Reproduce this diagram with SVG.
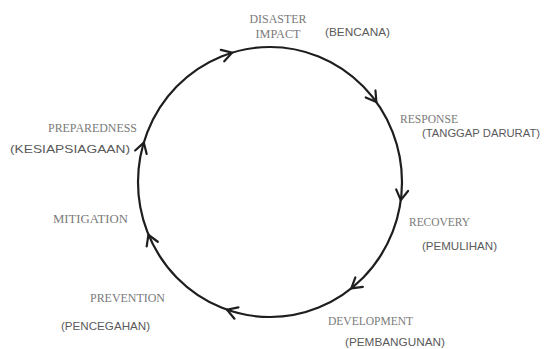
<svg xmlns="http://www.w3.org/2000/svg" width="547" height="349" viewBox="0 0 547 349">
<style>
.en{font-family:"Liberation Serif",serif;font-size:12px;fill:#7a7a7a;}
.id{font-family:"Liberation Sans",Arial,sans-serif;font-size:11px;fill:#5a5a5a;}
.ring{fill:none;stroke:#1e1e1e;stroke-width:2.2;}
.chev{fill:none;stroke:#1e1e1e;stroke-width:2.2;stroke-linecap:round;stroke-linejoin:miter;}
</style>
<defs>
<path id="chev" class="chev" d="M -10 -6 L 0 0 L -10 6"/>
</defs>
<rect width="547" height="349" fill="#fff"/>
<g id="connectors">
<ellipse class="ring" cx="270" cy="182" rx="132" ry="135"/>
<use href="#chev" transform="translate(232.1,52.7) rotate(-17)"/>
<use href="#chev" transform="translate(376.4,102.1) rotate(54.3)"/>
<use href="#chev" transform="translate(400.8,200.1) rotate(97.5)"/>
<use href="#chev" transform="translate(351.3,288.4) rotate(141.4)"/>
<use href="#chev" transform="translate(227,309.7) rotate(199.4)"/>
<use href="#chev" transform="translate(148.4,234.8) rotate(247.5)"/>
<use href="#chev" transform="translate(143.8,142.6) rotate(286.7)"/>
</g>
<g id="disaster-impact">
<text class="en" x="278" y="23" text-anchor="middle" textLength="57" lengthAdjust="spacingAndGlyphs">DISASTER</text>
<text class="en" x="278" y="38" text-anchor="middle" textLength="45" lengthAdjust="spacingAndGlyphs">IMPACT</text>
<text class="id" x="325" y="36" textLength="65" lengthAdjust="spacingAndGlyphs">(BENCANA)</text>
</g>
<g id="response">
<text class="en" x="400" y="123" textLength="58" lengthAdjust="spacingAndGlyphs">RESPONSE</text>
<text class="id" x="422" y="137" textLength="118" lengthAdjust="spacingAndGlyphs">(TANGGAP DARURAT)</text>
</g>
<g id="recovery">
<text class="en" x="409" y="226" textLength="61" lengthAdjust="spacingAndGlyphs">RECOVERY</text>
<text class="id" x="422" y="250" textLength="75" lengthAdjust="spacingAndGlyphs">(PEMULIHAN)</text>
</g>
<g id="development">
<text class="en" x="328" y="325" textLength="85" lengthAdjust="spacingAndGlyphs">DEVELOPMENT</text>
<text class="id" x="345" y="346" textLength="100" lengthAdjust="spacingAndGlyphs">(PEMBANGUNAN)</text>
</g>
<g id="prevention">
<text class="en" x="90" y="302" textLength="75" lengthAdjust="spacingAndGlyphs">PREVENTION</text>
<text class="id" x="61" y="330" textLength="89" lengthAdjust="spacingAndGlyphs">(PENCEGAHAN)</text>
</g>
<g id="mitigation">
<text class="en" x="53" y="223" textLength="75" lengthAdjust="spacingAndGlyphs">MITIGATION</text>
</g>
<g id="preparedness">
<text class="en" x="48" y="132" textLength="89" lengthAdjust="spacingAndGlyphs">PREPAREDNESS</text>
<text class="id" x="10" y="153" textLength="120" lengthAdjust="spacingAndGlyphs">(KESIAPSIAGAAN)</text>
</g>
</svg>
